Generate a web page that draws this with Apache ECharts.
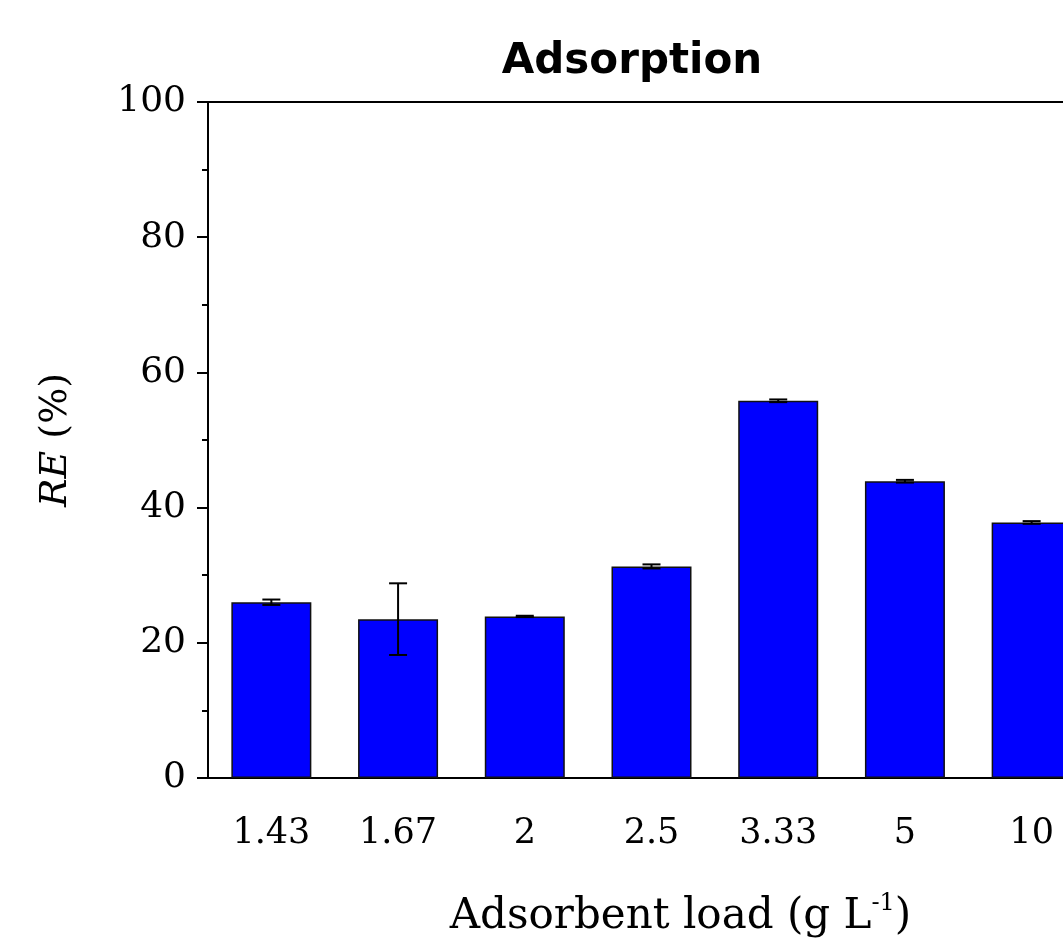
<!DOCTYPE html>
<html>
<head>
<meta charset="utf-8">
<script src="https://cdn.jsdelivr.net/npm/echarts@6/dist/echarts.min.js"></script>
<style>html,body{margin:0;padding:0;background:#fff;overflow:hidden;width:1063px;height:943px;}#c{width:1100px;height:943px;}</style>
</head>
<body>
<div id="c"></div>
<script>
const categories = ['1.43', '1.67', '2', '2.5', '3.33', '5', '10'];
const reValues = [26.0, 23.5, 23.9, 31.3, 55.8, 43.9, 37.8];
const reErrors = [0.4, 5.3, 0.1, 0.3, 0.2, 0.2, 0.2];
const yTicks = [0, 20, 40, 60, 80, 100];

const chart = echarts.init(document.getElementById('c'), null, {renderer: 'canvas'});
const serif = 'DejaVu Serif';
const option = {
  backgroundColor: '#fff',
  animation: false,
  title: {
    text: 'Adsorption',
    left: 627, top: 36, textAlign: 'center',
    textStyle: {fontFamily: 'DejaVu Sans', fontWeight: 'bold', fontSize: 42, color: '#000'}
  },
  grid: {left: 208, top: 102, bottom: 161, right: 5, show: true, borderColor: '#000', borderWidth: 2, backgroundColor: 'transparent'},
  xAxis: {
    type: 'category',
    data: categories,
    axisLine: {lineStyle: {color: '#000', width: 2}},
    axisTick: {show: false},
    axisLabel: {fontFamily: serif, fontSize: 35, color: '#000', margin: 38},
    name: '{n|Adsorbent load (g L}{s|-1}{n|)}',
    nameLocation: 'middle',
    nameGap: 114,
    nameTextStyle: {
      padding: [0, 0, 0, 58],
      rich: {
        n: {fontFamily: serif, fontSize: 42, color: '#000', lineHeight: 48},
        s: {fontFamily: serif, fontSize: 24, color: '#000', padding: [0, 0, 26, 0]}
      }
    }
  },
  yAxis: {
    type: 'value',
    min: 0, max: 100, interval: 20,
    splitLine: {show: false},
    axisLine: {show: true, lineStyle: {color: '#000', width: 2}},
    axisTick: {show: true, length: 11, lineStyle: {color: '#000', width: 2}},
    minorTick: {show: true, splitNumber: 2, length: 6, lineStyle: {color: '#000', width: 2}},
    axisLabel: {fontFamily: serif, fontSize: 36, color: '#000', margin: 22,
      formatter: v => (yTicks.indexOf(v) >= 0 ? String(v) : '')},
    name: '{i|RE}{n| (%)}',
    nameLocation: 'middle',
    nameGap: 133,
    nameRotate: 90,
    nameTextStyle: {
      rich: {
        i: {fontFamily: serif, fontStyle: 'italic', fontSize: 38, color: '#000'},
        n: {fontFamily: serif, fontSize: 38, color: '#000'}
      }
    }
  },
  series: [
    {
      type: 'bar',
      data: reValues,
      barWidth: 80,
      itemStyle: {color: '#0000FF', borderColor: '#111', borderWidth: 1.5},
      z: 2
    },
    {
      type: 'custom',
      z: 5,
      data: reValues.map((v, i) => [i, v - reErrors[i], v + reErrors[i]]),
      renderItem: function (params, api) {
        const x = api.value(0);
        const lo = api.coord([x, api.value(1)]);
        const hi = api.coord([x, api.value(2)]);
        const hw = 9;
        const st = {stroke: '#000', lineWidth: 2};
        return {
          type: 'group',
          children: [
            {type: 'line', shape: {x1: lo[0], y1: lo[1], x2: hi[0], y2: hi[1]}, style: st},
            {type: 'line', shape: {x1: hi[0] - hw, y1: hi[1], x2: hi[0] + hw, y2: hi[1]}, style: st},
            {type: 'line', shape: {x1: lo[0] - hw, y1: lo[1], x2: lo[0] + hw, y2: lo[1]}, style: st}
          ]
        };
      }
    }
  ]
};
chart.setOption(option);
</script>
</body>
</html>
